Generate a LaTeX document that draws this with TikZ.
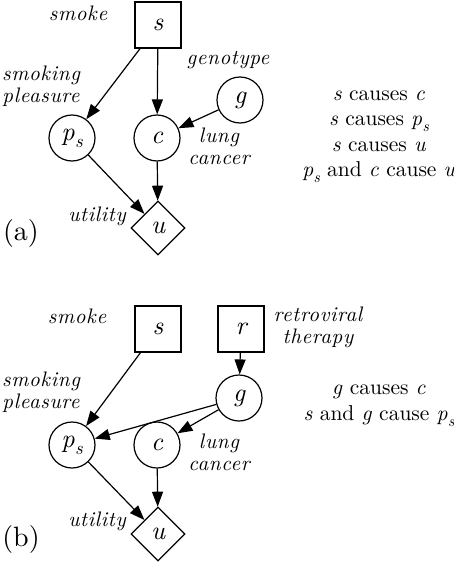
\documentclass[tikz,border=0pt]{standalone}
\usepackage{fontspec}
\setmainfont{lmroman10}[Extension=.otf,UprightFont=*-regular,ItalicFont=*-italic,BoldFont=*-bold,BoldItalicFont=*-bolditalic]
\newfontfamily\labfont{lmroman10}[Extension=.otf,UprightFont=*-regular,ItalicFont=*-italic,LetterSpace=3]
\usetikzlibrary{shapes.geometric,arrows.meta}
\newcommand\psub[1]{#1\kern0.02em\raisebox{-0.28em}{\scalebox{0.72}{s}}}
\tikzset{
  every picture/.style={line width=1.2pt},
  var/.style={font=\fontsize{26}{28}\selectfont\itshape},
  chance/.style={var,draw,circle,minimum size=46pt,inner sep=0pt},
  decision/.style={var,draw,rectangle,minimum size=46pt,inner sep=0pt},
  util/.style={var,draw,diamond,minimum size=54pt,inner sep=0pt},
  lab/.style={font=\labfont\fontsize{21}{22}\selectfont\itshape,align=center,inner sep=0pt},
  panelcap/.style={font=\fontsize{28}{30}\selectfont,inner sep=0pt},
  txt/.style={font=\fontsize{21.5}{25.5}\selectfont,align=center,inner sep=0pt},
  arr/.style={-{Triangle[length=15pt,width=11pt]},line width=1.2pt}
}
\begin{document}
\begin{tikzpicture}[x=1pt,y=-1pt]
\useasboundingbox (0,0) rectangle (454,562);
% ---------- panel (a)
\node[decision] (sa) at (158,25) {s};
\node[chance] (ga) at (240,100) {g};
\node[chance] (pa) at (72,138) {\psub{p}};
\node[chance] (ca) at (157,138) {c};
\node[util] (ua) at (158,228) {u};
\node[lab] (lsmokea) at (78,13) {smoke};
\node[lab] (lgena) at (228,60) {genotype};
\node[lab] (lplea) at (41,86) {smoking\\pleasure};
\node[lab] (llunga) at (219,146) {lung\\cancer};
\node[lab] (lutila) at (97,216) {utility};
\node[panelcap] (capa) at (21,233) {(a)};
\node[txt] (ta) at (379,137) {\textit{s} causes \textit{c}\\\textit{s} causes \textit{\psub{p}}\\\textit{s} causes \textit{u}\\\textit{\psub{p}} and \textit{c} cause \textit{u}};
\draw[arr] (sa) -- (pa);
\draw[arr] (sa) -- (ca);
\draw[arr] (ga) -- (ca);
\draw[arr] (pa) -- (ua);
\draw[arr] (ca) -- (ua);
% ---------- panel (b)
\node[decision] (sb) at (158,329) {s};
\node[decision] (rb) at (241,329) {r};
\node[chance] (gb) at (239,398) {g};
\node[chance] (pb) at (72,445) {\psub{p}};
\node[chance] (cb) at (157,445) {c};
\node[util] (ub) at (158,534) {u};
\node[lab] (lsmokeb) at (77,316) {smoke};
\node[lab] (lretb) at (318,327) {retroviral\\therapy};
\node[lab] (lpleb) at (41,392) {smoking\\pleasure};
\node[lab] (llungb) at (219,452) {lung\\cancer};
\node[lab] (lutilb) at (97,521) {utility};
\node[panelcap] (capb) at (21,539) {(b)};
\node[txt] (tb) at (379,406) {\textit{g} causes \textit{c}\\\textit{s} and \textit{g} cause \textit{\psub{p}}};
\draw[arr] (sb) -- (pb);
\draw[arr] (rb) -- (gb);
\draw[arr] (gb) -- (pb);
\draw[arr] (gb) -- (cb);
\draw[arr] (pb) -- (ub);
\draw[arr] (cb) -- (ub);
\end{tikzpicture}
\end{document}
